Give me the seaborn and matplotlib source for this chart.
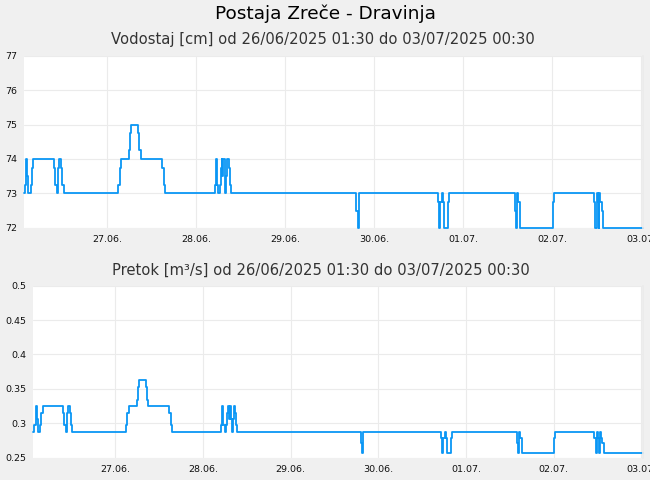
import pandas as pd
import seaborn as sns
import matplotlib.pyplot as plt
import matplotlib.ticker as mticker

# ure od 26.06.2025 00:00, kjer se vrednost spremeni (stopničasto)
ure = [1.5, 1.8, 2.15, 2.42, 2.7, 3.42, 3.7, 4.04, 9.6, 9.9, 10.35, 10.6, 10.9, 11.5, 11.8, 12.2,
       26.97, 27.3, 27.6, 29.85, 30.2, 30.5, 32.27, 32.63, 33.0, 38.74, 39.2, 39.5,
       52.9, 53.3, 53.6, 53.9, 54.3, 54.6, 54.8, 55.0, 55.3, 55.6, 55.8, 56.1, 56.4, 56.7, 57.0, 57.4,
       91.2, 91.6, 91.9,
       113.2, 113.5, 113.8, 114.2, 114.5, 114.7, 115.9, 116.3,
       134.0, 134.3, 134.6, 134.9, 135.3, 144.1, 144.45,
       155.2, 155.6, 156.0, 156.3, 156.5, 156.7, 157.0, 157.4, 157.7, 168.5]

vodostaj = [73, 73.25, 74, 73.5, 73, 73.25, 73.75, 74, 73.75, 73.25, 73, 73.75, 74, 73.75, 73.25, 73,
            73.25, 73.75, 74, 74.25, 74.75, 75, 74.75, 74.25, 74, 73.75, 73.25, 73,
            73.25, 74, 73.25, 73, 73.25, 73.75, 74, 73.5, 74, 73.5, 73, 73.5, 74, 73.75, 73.25, 73,
            72.5, 72, 73,
            72.75, 72, 72.75, 73, 72.75, 72, 72.75, 73,
            72.5, 72, 73, 72.75, 72, 72.75, 73,
            72.75, 72, 73, 72.75, 72, 73, 72.75, 72.5, 72, 72]

pretok = [0.287, 0.297, 0.325, 0.306, 0.287, 0.297, 0.315, 0.325, 0.315, 0.297, 0.287, 0.315, 0.325, 0.315, 0.297, 0.287,
          0.297, 0.315, 0.325, 0.334, 0.353, 0.363, 0.353, 0.334, 0.325, 0.315, 0.297, 0.287,
          0.297, 0.325, 0.297, 0.287, 0.297, 0.315, 0.325, 0.306, 0.325, 0.306, 0.287, 0.306, 0.325, 0.315, 0.297, 0.287,
          0.272, 0.257, 0.287,
          0.279, 0.257, 0.279, 0.287, 0.279, 0.257, 0.279, 0.287,
          0.272, 0.257, 0.287, 0.279, 0.257, 0.279, 0.287,
          0.279, 0.257, 0.287, 0.279, 0.257, 0.287, 0.279, 0.272, 0.257, 0.257]

dnevi = ["2025-06-27", "2025-06-28", "2025-06-29", "2025-06-30", "2025-07-01", "2025-07-02", "2025-07-03"]
dnevi_oznake = ["27.06.", "28.06.", "29.06.", "30.06.", "01.07.", "02.07.", "03.07."]

vod_ticks = [72, 73, 74, 75, 76, 77]
pre_ticks = [0.25, 0.3, 0.35, 0.4, 0.45, 0.5]

zacetek = pd.Timestamp("2025-06-26 01:30")
konec = pd.Timestamp("2025-07-03 00:30")

df = pd.DataFrame({
    "cas": pd.Timestamp("2025-06-26") + pd.to_timedelta(ure, unit="h"),
    "vodostaj": vodostaj,
    "pretok": pretok,
})

sns.set_theme(style="whitegrid")
plt.rcParams["font.family"] = ["DejaVu Sans"]
plt.rcParams["figure.facecolor"] = "#f0f0f0"
plt.rcParams["grid.color"] = "#ebebeb"
plt.rcParams["grid.linewidth"] = 0.8

barva = "#0a96f5"

fig = plt.figure(figsize=(6.5, 4.8), dpi=100)
ax1 = fig.add_axes([0.0369, 0.5256, 0.9523, 0.3583])
ax2 = fig.add_axes([0.0512, 0.0465, 0.9380, 0.3583])

fig.text(0.5, 0.971, "Postaja Zreče - Dravinja", ha="center", va="center", fontsize=13.3, color="black")
fig.text(0.497, 0.917, "Vodostaj [cm] od 26/06/2025 01:30 do 03/07/2025 00:30", ha="center", va="center",
         fontsize=10.6, color="#333333")
fig.text(0.493, 0.4375, "Pretok [m³/s] od 26/06/2025 01:30 do 03/07/2025 00:30", ha="center", va="center",
         fontsize=10.6, color="#333333")

for ax, stolpec, ticks in [(ax1, "vodostaj", vod_ticks), (ax2, "pretok", pre_ticks)]:
    sns.lineplot(data=df, x="cas", y=stolpec, ax=ax, color=barva, linewidth=1.3,
                 drawstyle="steps-post", clip_on=False)
    ax.set_facecolor("white")
    ax.set_xlim(zacetek, konec)
    ax.set_ylim(ticks[0], ticks[-1])
    ax.set_yticks(ticks)
    ax.yaxis.set_major_formatter(mticker.FuncFormatter(lambda v, p: f"{v:g}"))
    ax.set_xticks(pd.to_datetime(dnevi))
    ax.set_xticklabels(dnevi_oznake)
    ax.set_xlabel("")
    ax.set_ylabel("")
    ax.tick_params(axis="both", labelsize=6.8, length=0, colors="#111111")
    ax.tick_params(axis="x", pad=5)
    ax.tick_params(axis="y", pad=5)
    for s in ["top", "left", "bottom"]:
        ax.spines[s].set_visible(False)
    ax.spines["right"].set_color("#ebebeb")

fig.savefig("out.png", dpi=100, facecolor=fig.get_facecolor())
